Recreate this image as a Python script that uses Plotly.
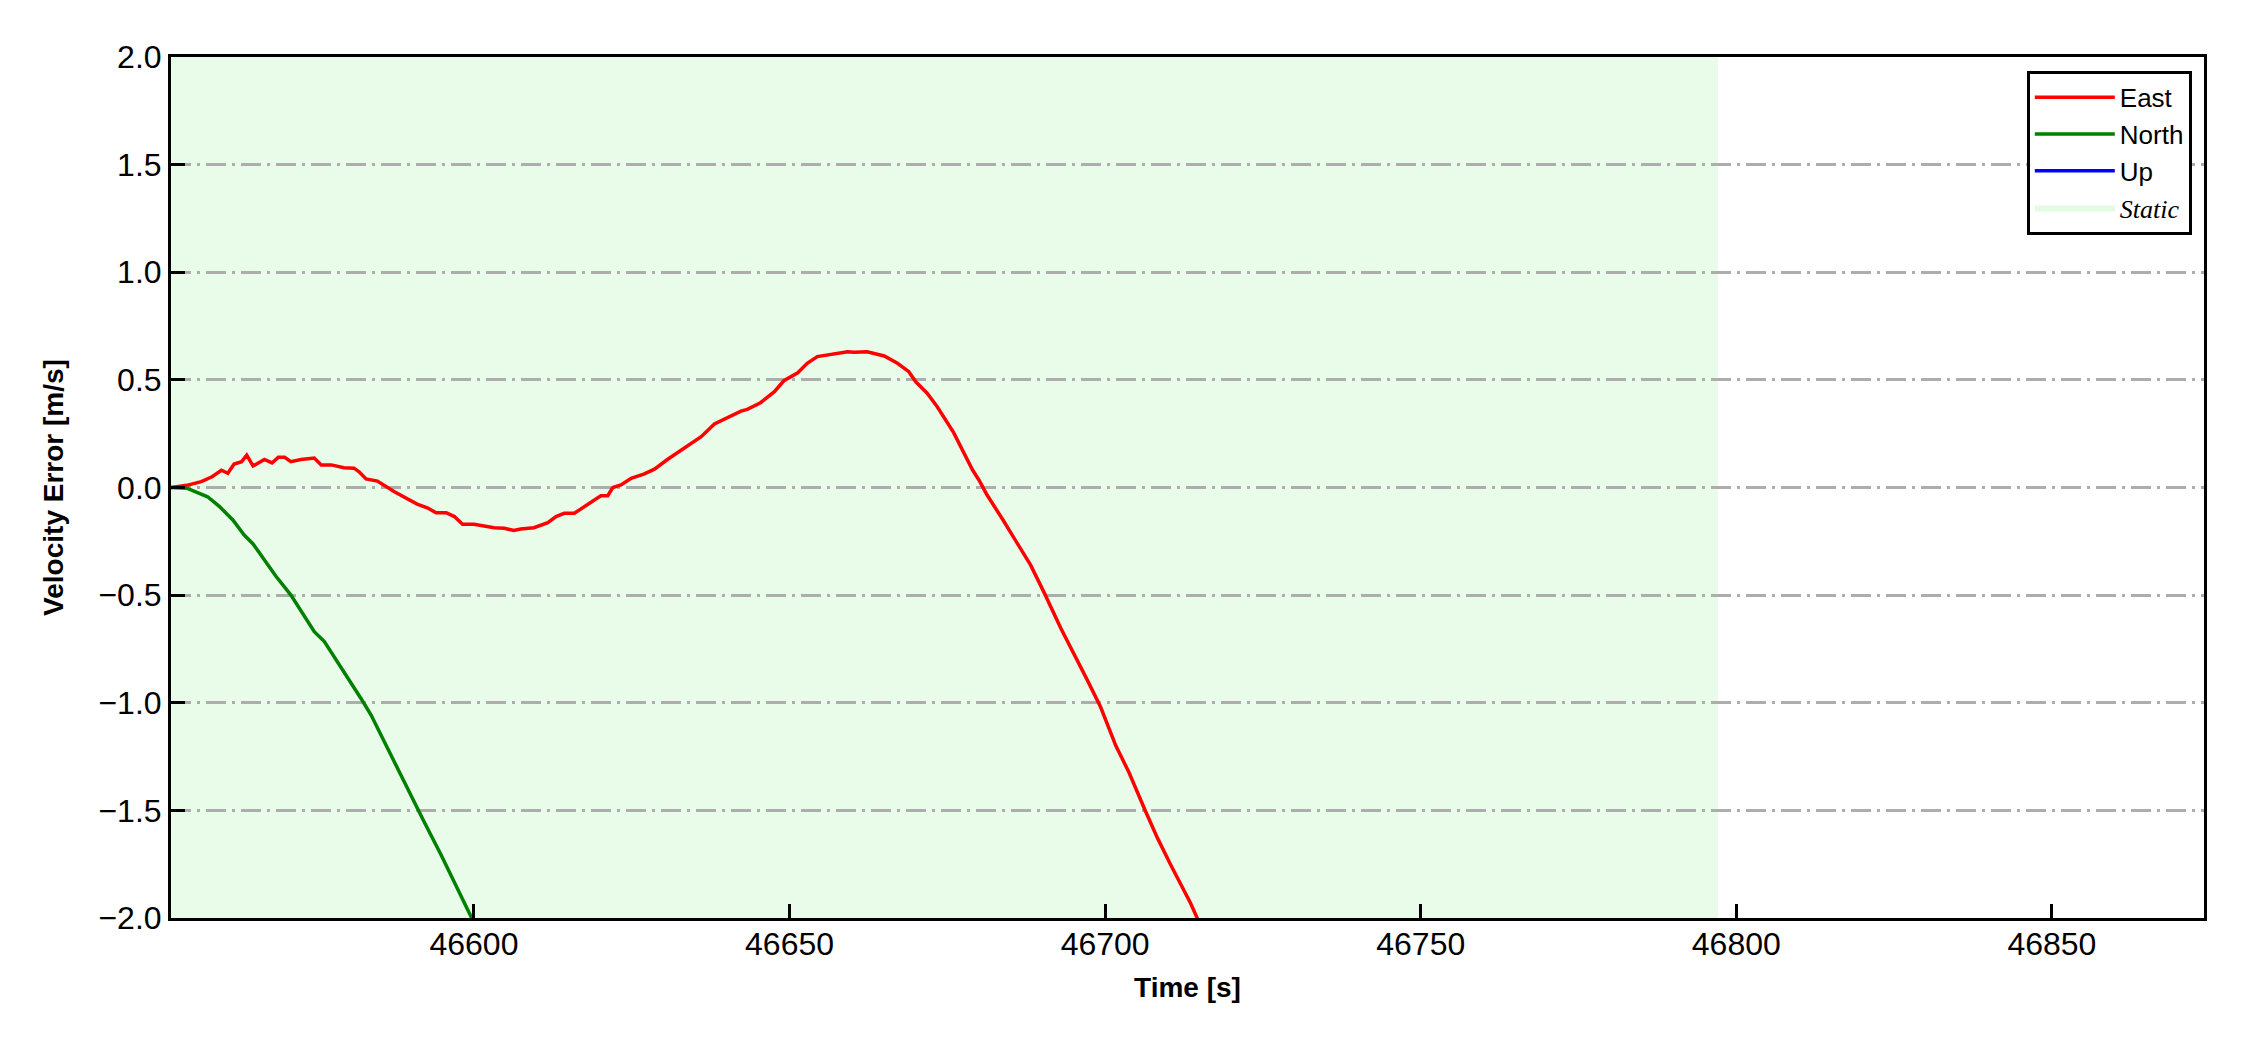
import plotly.graph_objects as go

# ---------------- data ----------------
east_time = [46552.0, 46554.5, 46556.8, 46558.5, 46560.0, 46561.0, 46562.0, 46563.2, 46564.0,
             46565.0, 46566.8, 46568.0, 46569.0, 46570.0, 46571.0, 46572.6, 46574.7, 46575.8,
             46577.4, 46579.4, 46581.0, 46581.8, 46582.9, 46584.7, 46587.4, 46589.3, 46591.0,
             46592.6, 46594.0, 46595.6, 46596.9, 46598.2, 46600.0, 46603.2, 46604.8, 46606.3,
             46607.4, 46609.5, 46611.7, 46613.0, 46614.3, 46615.9, 46617.5, 46620.1, 46621.2,
             46622.0, 46623.3, 46624.9, 46627.0, 46628.6, 46630.7, 46633.9, 46636.0, 46638.1,
             46639.7, 46642.3, 46643.3, 46645.4, 46647.6, 46649.1, 46651.3, 46652.8, 46654.4,
             46657.1, 46659.2, 46660.2, 46662.3, 46665.0, 46667.1, 46668.9, 46670.0, 46671.8,
             46673.4, 46676.0, 46679.0, 46680.0, 46681.3, 46683.8, 46686.6, 46688.2, 46690.3,
             46693.0, 46697.2, 46699.3, 46701.7, 46703.8, 46706.4, 46708.3, 46710.4, 46713.5,
             46715.5]
east_values = [0.0, 0.01, 0.027, 0.05, 0.08, 0.066, 0.109, 0.12, 0.15,
               0.10, 0.13, 0.114, 0.14, 0.14, 0.12, 0.13, 0.137, 0.105,
               0.105, 0.092, 0.09, 0.073, 0.04, 0.03, -0.02, -0.05, -0.077,
               -0.094, -0.117, -0.117, -0.135, -0.171, -0.171, -0.187, -0.189, -0.20,
               -0.193, -0.187, -0.163, -0.135, -0.12, -0.12, -0.089, -0.038, -0.038,
               0.0, 0.012, 0.043, 0.063, 0.085, 0.131, 0.193, 0.236, 0.295,
               0.317, 0.355, 0.363, 0.394, 0.445, 0.496, 0.533, 0.577, 0.608,
               0.623, 0.631, 0.628, 0.631, 0.611, 0.577, 0.538, 0.491, 0.438,
               0.375, 0.255, 0.081, 0.035, -0.035, -0.15, -0.289, -0.361, -0.486,
               -0.655, -0.896, -1.021, -1.2, -1.325, -1.504, -1.629, -1.754, -1.929,
               -2.06]

north_time = [46552.0, 46554.6, 46557.8, 46559.7, 46561.8, 46563.6, 46565.0, 46567.3, 46568.6,
              46571.0, 46573.1, 46574.7, 46576.3, 46578.9, 46582.1, 46583.7, 46586.3, 46589.0,
              46591.1, 46592.1, 46594.8, 46597.4, 46599.5, 46600.3]
north_values = [0.0, -0.004, -0.043, -0.089, -0.151, -0.221, -0.262, -0.36, -0.411,
                -0.5, -0.6, -0.67, -0.716, -0.832, -0.98, -1.057, -1.212, -1.367,
                -1.495, -1.553, -1.707, -1.862, -1.986, -2.04]

# Up component is not visible inside the displayed range (legend entry only)
up_time = [None]
up_values = [None]

static_start = 46552.0
static_end = 46797.1

x_range = [46552.0, 46874.1]
y_range = [-2.0, 2.0]
x_ticks = [46600, 46650, 46700, 46750, 46800, 46850]
y_ticks = [-2.0, -1.5, -1.0, -0.5, 0.0, 0.5, 1.0, 1.5, 2.0]

# ---------------- figure ----------------
FONT = "Liberation Sans, Arial, sans-serif"
STATIC_COLOR = "#e9fce9"

fig = go.Figure()

fig.add_vrect(x0=static_start, x1=static_end, fillcolor=STATIC_COLOR, opacity=1,
              line_width=0, layer="below")

fig.add_trace(go.Scatter(x=east_time, y=east_values, mode="lines", name="East",
                         line=dict(color="#ff0000", width=3.5), legendrank=1))
fig.add_trace(go.Scatter(x=north_time, y=north_values, mode="lines", name="North",
                         line=dict(color="#008000", width=3.5), legendrank=2))
fig.add_trace(go.Scatter(x=up_time, y=up_values, mode="lines", name="Up",
                         line=dict(color="#0000ff", width=3.5), legendrank=3))
fig.add_trace(go.Scatter(x=[None], y=[None], mode="lines", fill="toself",
                         fillcolor="#e3fbe3", line=dict(width=0, color=STATIC_COLOR),
                         name='<span style="font-family:Liberation Serif, Times New Roman, serif"><i>Static</i></span>',
                         legendrank=4))

fig.update_layout(
    width=2250, height=1050,
    margin=dict(l=171, r=46, t=57, b=132),
    paper_bgcolor="white", plot_bgcolor="white",
    font=dict(family=FONT, size=32, color="black"),
    showlegend=True,
    legend=dict(
        x=0.994, y=0.984, xanchor="right", yanchor="top",
        bgcolor="white", bordercolor="black", borderwidth=3,
        font=dict(family=FONT, size=26, color="black"),
        tracegroupgap=0, itemwidth=80,
    ),
)

fig.update_xaxes(
    range=x_range, tickvals=x_ticks, tickformat="d",
    showgrid=False, zeroline=False,
    showline=True, linecolor="black", linewidth=3, mirror=True,
    ticks="inside", ticklen=14, tickwidth=3, tickcolor="black",
    ticklabelstandoff=-4,
    tickfont=dict(family=FONT, size=32, color="black"),
    title=dict(text="<b>Time [s]</b>", font=dict(family=FONT, size=28, color="black"),
               standoff=16),
)
fig.update_yaxes(
    range=y_range, tickvals=y_ticks, tickformat=".1f",
    showgrid=True, gridcolor="#adadad", gridwidth=3, griddash="20px,6px,3px,6px",
    zeroline=False,
    showline=True, linecolor="black", linewidth=3, mirror=True,
    ticks="inside", ticklen=14, tickwidth=3, tickcolor="black",
    tickfont=dict(family=FONT, size=32, color="black"),
    title=dict(text="<b>Velocity Error [m/s]</b>", font=dict(family=FONT, size=28, color="black"),
               standoff=27),
)

fig.write_html("out.html", config={"displayModeBar": False},
               post_script="document.body.style.margin='0';")
